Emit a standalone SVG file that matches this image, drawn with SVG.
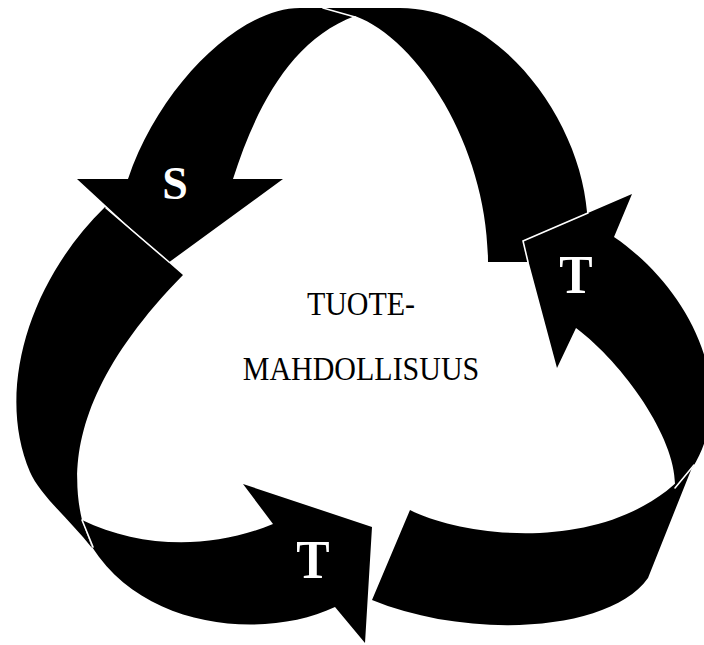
<svg xmlns="http://www.w3.org/2000/svg" width="704" height="645" viewBox="0 0 704 645">
<style>
.band{fill:#000;stroke:none}
.seam{stroke:#fff;stroke-width:1.6;fill:none;stroke-linecap:round}
.lbl{font-family:"Liberation Serif","Times New Roman",serif;font-weight:bold;font-size:50px;fill:#fff;text-anchor:middle}
.ctr{font-family:"Liberation Serif","Times New Roman",serif;font-size:30px;fill:#000;text-anchor:middle}
</style>
<rect width="704" height="645" fill="#fff"/>
<g id="arrow-left-bottom">
<path class="band" d="M105,207 C30,280 -5,390 30,472 C40,495 70,520 92,548 L82,520 C68,460 80,380 183,275 Z"/>
<path class="band" d="M82,520 C140,548 210,550 273,524 L243,484 L372,527 L365,643 L335,607 C265,640 145,630 92,547 Z"/>
<line class="seam" x1="82" y1="520" x2="93" y2="547"/>
<text class="lbl" transform="translate(313,578) scale(1,1.08)">T</text>
</g>
<g id="arrow-top">
<path class="band" d="M488,262 L590,262 L587,212 C580,120 500,8 400,8 L300,8 C240,8 160,85 128,179 L77,179 L168,263 L283,179 L233,179 C255,110 290,40 355,16 C420,40 488,150 488,262 Z"/>
<line class="seam" x1="106" y1="208" x2="169" y2="262"/>
<line class="seam" x1="323" y1="8" x2="355" y2="17"/>
<text class="lbl" transform="translate(175,199)" style="font-size:46px">S</text>
</g>
<g id="arrow-right">
<path class="band" d="M410,510 C470,540 620,555 693,465 L648,578 C610,632 470,640 372,600 Z"/>
<path class="band" d="M614,237 C685,285 742,385 693,467 L675,487 C677,440 625,365 576,328 L557,368 L523,241 L632,194 Z"/>
<line class="seam" x1="675" y1="488" x2="694" y2="465"/>
<polyline class="seam" points="588,213 523,241 528,262"/>
<text class="lbl" transform="translate(576,293) scale(1,1.08)">T</text>
</g>
<g id="center-label">
<text class="ctr" transform="translate(361,315) scale(1,1.1)">TUOTE-</text>
<text class="ctr" transform="translate(361,380) scale(1,1.1)">MAHDOLLISUUS</text>
</g>
</svg>
